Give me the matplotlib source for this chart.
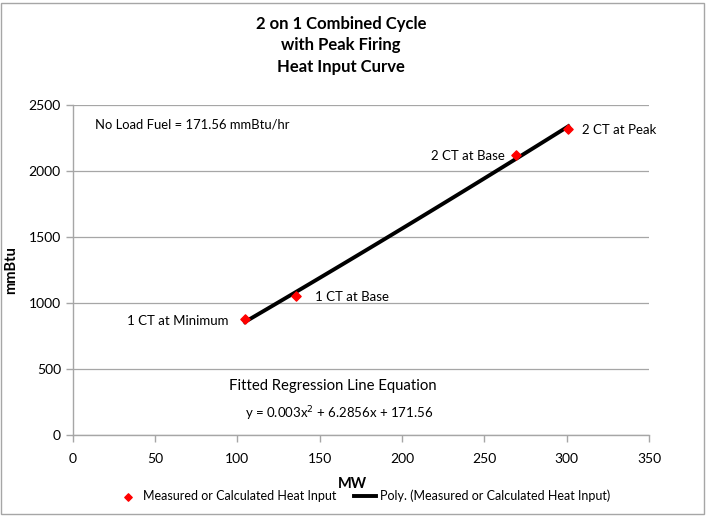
import numpy as np
import matplotlib
matplotlib.use("Agg")
import matplotlib.pyplot as plt
from matplotlib.patches import Rectangle

plt.rcParams['font.family'] = ['Lato', 'DejaVu Sans']

# measured / calculated heat input points
mw = np.array([104.6, 135.5, 269.5, 301.0])
heat = np.array([875, 1050, 2122, 2316])
point_names = ['1 CT at Minimum', '1 CT at Base', '2 CT at Base', '2 CT at Peak']

# second order trendline through the points (Excel "Poly.")
coef = np.polyfit(mw, heat, 2)
xs = np.linspace(mw.min(), mw.max(), 100)
ys = np.polyval(coef, xs)

fig = plt.figure(figsize=(7.07, 5.16), dpi=100)
ax = fig.add_axes([0.1028, 0.1576, 0.8152, 0.6395])

fig.patches.append(Rectangle((0.002, 0.004), 0.994, 0.99, transform=fig.transFigure,
                             fill=False, edgecolor='#a6a6a6', linewidth=1))

pts = ax.scatter(mw, heat, marker='D', s=22, color='#ff0000', zorder=3,
                 label='Measured or Calculated Heat Input')
line, = ax.plot(xs, ys, color='black', linewidth=2.8, zorder=2,
                label='Poly. (Measured or Calculated Heat Input)')

ax.set_xlim(0, 350)
ax.set_ylim(0, 2500)
ax.set_xticks(np.arange(0, 351, 50))
ax.set_yticks(np.arange(0, 2501, 500))
ax.grid(axis='y', color='#a6a6a6', linewidth=0.9)
ax.set_axisbelow(True)
for s in ['top', 'right']:
    ax.spines[s].set_visible(False)
for s in ['left', 'bottom']:
    ax.spines[s].set_color('#a6a6a6')
    ax.spines[s].set_linewidth(1)
ax.tick_params(colors='#a6a6a6', labelcolor='black', labelsize=10, length=5, width=1)
ax.tick_params(axis='x', pad=8)

ax.set_xlabel('MW', fontsize=10.5, fontweight='bold')
ax.set_ylabel('mmBtu', fontsize=10.5, fontweight='bold')
ax.xaxis.set_label_coords(0.486, -0.128)
ax.yaxis.set_label_coords(-0.095, 0.5)

# point labels
offsets = [(-12, -1, 'right'), (14, -1, 'left'), (-8, -1, 'right'), (10, -1, 'left')]
for x, y, name, (dx, dy, ha) in zip(mw, heat, point_names, offsets):
    ax.annotate(name, (x, y), xytext=(dx, dy), textcoords='offset points',
                ha=ha, va='center', fontsize=9.5)

ax.text(13.5, 2350, 'No Load Fuel = 171.56 mmBtu/hr', ha='left', va='center', fontsize=9.4)
ax.text(158, 370, 'Fitted Regression Line Equation', ha='center', va='center', fontsize=10.7)
ax.text(162, 160, 'y = 0.003x$^2$ + 6.2856x + 171.56', ha='center', va='center', fontsize=9.5)

fig.text(0.482, 0.912, '2 on 1 Combined Cycle\nwith Peak Firing\nHeat Input Curve',
         ha='center', va='center', fontsize=12, fontweight='bold', linespacing=1.45)

fig.legend(handles=[pts, line], loc='center', bbox_to_anchor=(0.514, 0.039), ncol=2,
           frameon=False, fontsize=9, handlelength=1.8, handletextpad=0.3,
           columnspacing=1.4, markerscale=0.8, borderpad=0)

fig.savefig('out.png', dpi=100)
